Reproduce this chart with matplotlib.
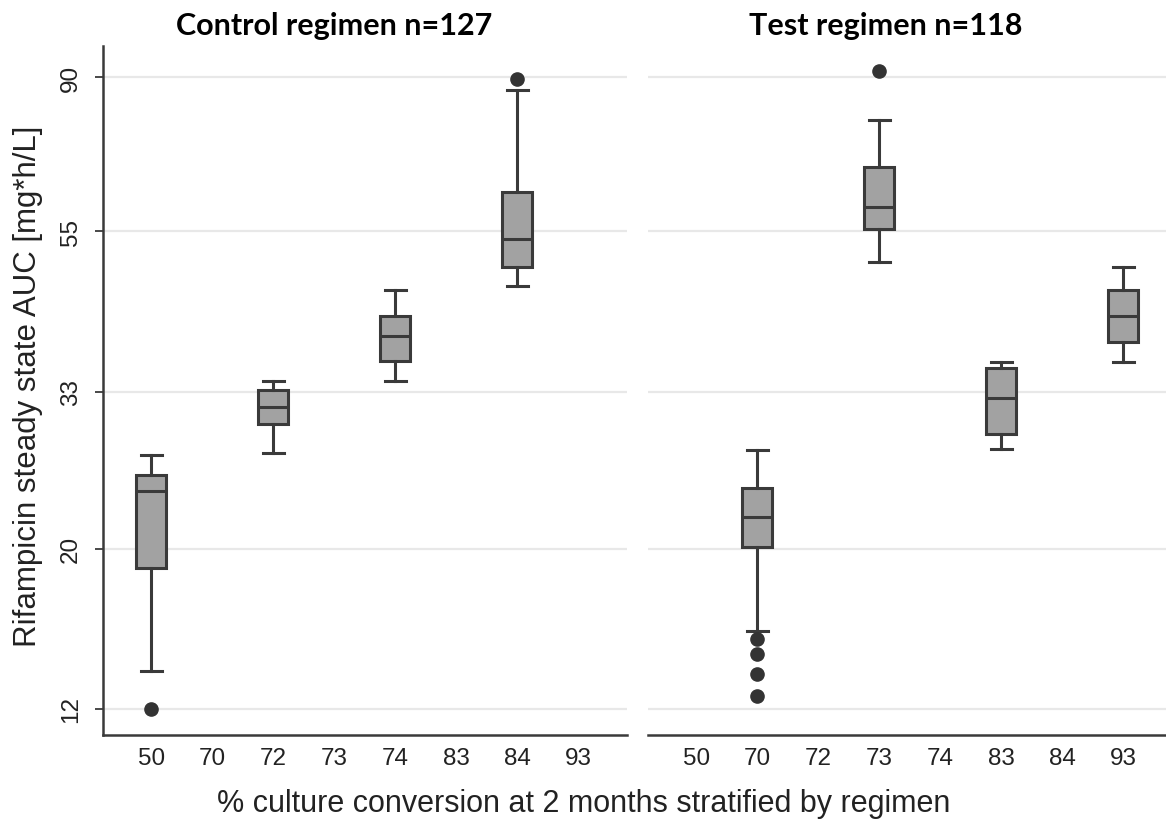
import matplotlib
matplotlib.use("Agg")
import matplotlib.pyplot as plt
from matplotlib.ticker import NullLocator, FixedLocator

# x categories (% culture conversion at 2 months), shared by both panels
categories = ["50", "70", "72", "73", "74", "83", "84", "93"]

# per-group summaries: (category, whisker low, q1, median, q3, whisker high, outliers)
control_groups = [
    ("50", 13.55, 18.8, 24.0, 25.3, 27.0, [12.0]),
    ("72", 27.1, 29.8, 31.4, 33.2, 34.1, []),
    ("74", 34.1, 36.4, 39.4, 42.0, 45.7, []),
    ("84", 46.2, 49.1, 53.7, 62.3, 86.4, [89.4]),
]
test_groups = [
    ("70", 15.4, 20.1, 22.1, 24.3, 27.4, [15.0, 14.3, 13.4, 12.5]),
    ("73", 49.9, 55.4, 59.4, 67.5, 78.5, [91.8]),
    ("83", 27.5, 28.8, 32.3, 35.6, 36.3, []),
    ("93", 36.3, 38.6, 42.0, 45.7, 49.1, []),
]

titles = ["Control regimen n=127", "Test regimen n=118"]
yticks = [12, 20, 33, 55, 90]

W, H = 1166, 828
fig = plt.figure(figsize=(W / 100, H / 100), dpi=100)

edge = "#3a3a3a"
face = "#a2a2a2"
grid_c = "#e8e8e8"
tick_fs = 17.5


def make_stats(groups):
    stats, pos = [], []
    for cat, lo, q1, med, q3, hi, out in groups:
        stats.append(dict(whislo=lo, q1=q1, med=med, q3=q3, whishi=hi, fliers=out))
        pos.append(categories.index(cat))
    return stats, pos


panels = [(control_groups, 103), (test_groups, 648)]
for i, (groups, left_px) in enumerate(panels):
    ax = fig.add_axes([left_px / W, 92 / H, 524 / W, 689 / H])
    stats, pos = make_stats(groups)
    ax.bxp(stats, positions=pos, widths=0.49, patch_artist=True,
           capwidths=0.35,
           boxprops=dict(facecolor=face, edgecolor=edge, linewidth=2.2),
           medianprops=dict(color=edge, linewidth=2.2),
           whiskerprops=dict(color=edge, linewidth=2.2),
           capprops=dict(color=edge, linewidth=2.2),
           flierprops=dict(marker="o", markersize=9.5, markerfacecolor="#333333",
                           markeredgecolor="#333333"))
    ax.set_yscale("log")
    ax.set_ylim(11.04, 99.35)
    ax.set_xlim(-0.79, 7.8)
    ax.yaxis.set_major_locator(FixedLocator(yticks))
    ax.yaxis.set_minor_locator(NullLocator())
    ax.set_xticks(range(len(categories)))
    ax.set_xticklabels(categories, fontsize=tick_fs, family="Liberation Sans",
                       color="#222222")
    ax.tick_params(axis="x", length=0, pad=9)
    for y in yticks:
        ax.axhline(y, color=grid_c, linewidth=1.6, zorder=0)
    for s in ["top", "right"]:
        ax.spines[s].set_visible(False)
    ax.spines["bottom"].set_linewidth(1.8)
    ax.spines["bottom"].set_color(edge)
    if i == 0:
        ax.spines["left"].set_linewidth(1.8)
        ax.spines["left"].set_color(edge)
        ax.set_yticklabels([str(v) for v in yticks], fontsize=tick_fs,
                           family="Liberation Sans", rotation=90, va="center",
                           color="#222222")
        ax.tick_params(axis="y", length=6, width=1.3, color=edge, pad=9)
    else:
        ax.spines["left"].set_visible(False)
        ax.tick_params(axis="y", left=False, labelleft=False)

fig.text(334 / W, 1 - 26 / H, titles[0], ha="center", va="center",
         fontsize=22, fontweight="bold", family="Lato")
fig.text(886 / W, 1 - 26 / H, titles[1], ha="center", va="center",
         fontsize=22, fontweight="bold", family="Lato")
fig.text(28 / W, 1 - 386 / H, "Rifampicin steady state AUC [mg*h/L]",
         rotation=90, ha="center", va="center", fontsize=22.5,
         family="Liberation Sans", color="#222222")
fig.text(584 / W, 1 - 804 / H,
         "% culture conversion at 2 months stratified by regimen",
         ha="center", va="center", fontsize=22, family="Liberation Sans",
         color="#222222")

fig.savefig("out.png", dpi=100)
